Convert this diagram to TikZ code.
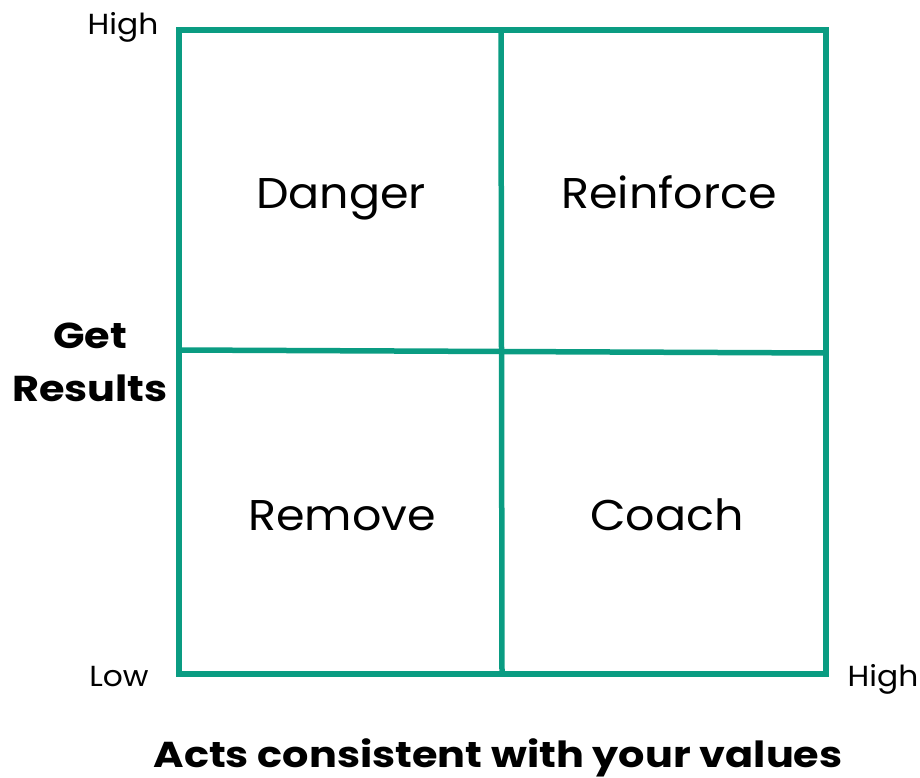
\documentclass[tikz,border=0pt]{standalone}
\usepackage{fontspec}
\setmainfont{Poppins}
\newfontfamily\quadfont[FakeStretch=1.07]{Poppins}
\newfontfamily\tickfont[FakeStretch=1.08]{Poppins}
\newfontfamily\axisfont[FakeStretch=1.15]{Poppins}
\definecolor{gridteal}{HTML}{0A9C82}

\tikzset{
  gridline/.style={draw=gridteal, line width=5.5pt},
  quadlabel/.style={font=\quadfont\fontsize{43}{48}\selectfont, anchor=base},
  ticklabel/.style={font=\tickfont\fontsize{29}{32}\selectfont, anchor=base},
  axislabel/.style={font=\axisfont\bfseries\fontsize{36}{53}\selectfont, align=center},
}

\begin{document}
\begin{tikzpicture}[x=1pt,y=-1pt]
  \useasboundingbox (0,0) rectangle (920,778);

  % corners and mid points of the 2x2 grid
  \coordinate (tl) at (179,30);
  \coordinate (br) at (826,674);
  \coordinate (midtop) at (501,30);
  \coordinate (midbot) at (502,674);
  \coordinate (midleft) at (179,350);
  \coordinate (midright) at (826,353);

  \draw[gridline] (tl) rectangle (br);
  \draw[gridline] (midtop) -- (midbot);
  \draw[gridline] (midleft) -- (midright);

  % quadrants
  \node[quadlabel] (danger) at (341,208) {Danger};
  \node[quadlabel] (reinforce) at (669,208) {Reinforce};
  \node[quadlabel] (remove) at (342,530) {Remove};
  \node[quadlabel] (coach) at (667,530) {Coach};

  % axis ends
  \node[ticklabel] (yhigh) at (123,35) {High};
  \node[ticklabel] (low) at (119,686) {Low};
  \node[ticklabel] (xhigh) at (883,686) {High};

  % axis titles
  \node[axislabel] (yaxis) at (90,362) {Get\\Results};
  \node[axislabel, anchor=base] (xaxis) at (498,767) {Acts consistent with your values};
\end{tikzpicture}
\end{document}
